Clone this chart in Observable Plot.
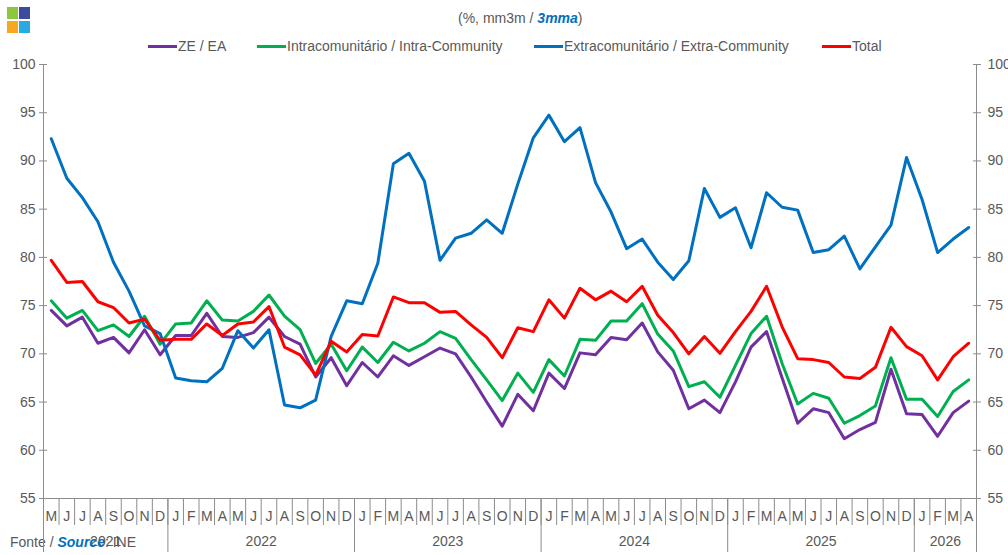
<!DOCTYPE html>
<html>
<head>
<meta charset="utf-8">
<script src="https://cdn.jsdelivr.net/npm/d3@7"></script>
<script src="https://cdn.jsdelivr.net/npm/@observablehq/plot@0.6"></script>
<style>
  body { margin: 0; background: #fff; }
  #wrap { position: relative; width: 1008px; height: 555px; overflow: hidden; font-family: "Liberation Sans", Arial, sans-serif; color: #595959; }
  #wrap svg { position: absolute; left: 0; top: 0; }
  .abs { position: absolute; font-size: 14px; line-height: 16px; white-space: nowrap; }
  .sq { position: absolute; width: 11px; height: 12px; }
  .lg { position: absolute; height: 3px; width: 29px; }
  .blue { color: #0070C0; font-weight: bold; font-style: italic; }
</style>
</head>
<body>
<div id="wrap">
  <div class="sq" style="left:7px;top:7px;background:#8DC63F"></div>
  <div class="sq" style="left:19px;top:7px;background:#3C4BA0"></div>
  <div class="sq" style="left:7px;top:21px;background:#F7A823"></div>
  <div class="sq" style="left:19px;top:21px;background:#29ABE2"></div>
  <div class="abs" style="left:458px;top:10px">(%, mm3m / <span class="blue">3mma</span>)</div>
  <div id="legend"></div>
  <div class="abs" style="left:10px;top:534px">Fonte / <span class="blue">Source</span>: INE</div>
</div>
<script>
// ---- data ----
const monthLetters = ["J","F","M","A","M","J","J","A","S","O","N","D"];
const startYear = 2021;
const startMonth = 4; // May (0-based)
const nMonths = 60;
const years = ["2021","2022","2023","2024","2025","2026"];
const yTicks = [55,60,65,70,75,80,85,90,95,100];

const seriesNames = ["ZE / EA", "Intracomunitário / Intra-Community", "Extracomunitário / Extra-Community", "Total"];
const seriesColors = ["#7030A0", "#00B050", "#0070C0", "#FF0000"];

const zeEa = [74.5,72.9,73.8,71.1,71.7,70.1,72.5,69.9,71.9,71.9,74.2,71.8,71.7,72.2,73.8,71.8,71.0,67.6,69.6,66.7,
  69.1,67.6,69.8,68.8,69.7,70.6,70.0,67.6,65.0,62.5,65.8,64.1,68.0,66.4,70.1,69.9,71.7,71.45,73.2,70.2,
  68.3,64.3,65.2,63.9,67.1,70.7,72.3,67.5,62.8,64.3,63.9,61.2,62.15,62.9,68.4,63.8,63.7,61.45,63.9,65.1];
const intra = [75.5,73.7,74.5,72.4,73.0,71.8,73.9,71.0,73.1,73.2,75.5,73.5,73.4,74.4,76.1,73.9,72.5,69.0,71.0,68.25,
  70.7,69.1,71.2,70.3,71.1,72.3,71.6,69.4,67.3,65.15,68.0,66.0,69.4,67.7,71.5,71.4,73.4,73.4,75.2,72.05,
  70.3,66.6,67.1,65.5,68.8,72.1,73.9,69.0,64.8,65.9,65.4,62.8,63.6,64.6,69.6,65.3,65.3,63.5,66.1,67.3];
const extra = [92.3,88.2,86.2,83.7,79.5,76.5,72.9,72.1,67.5,67.2,67.1,68.5,72.4,70.6,72.5,64.7,64.4,65.2,71.8,75.5,
  75.2,79.4,89.7,90.8,87.9,79.7,82.0,82.5,83.9,82.5,87.6,92.4,94.75,92.0,93.45,87.75,84.7,80.9,81.9,79.5,
  77.7,79.65,87.15,84.15,85.15,81.0,86.7,85.2,84.9,80.5,80.8,82.2,78.8,81.1,83.35,90.35,86.0,80.5,81.9,83.1];
const total = [79.7,77.4,77.5,75.4,74.8,73.2,73.6,71.4,71.5,71.5,73.1,71.9,73.1,73.3,74.9,70.7,69.9,67.8,71.3,70.2,
  72.0,71.85,75.9,75.3,75.3,74.3,74.4,73.0,71.7,69.6,72.7,72.3,75.6,73.7,76.8,75.6,76.5,75.4,77.0,74.0,
  72.2,70.0,71.8,70.05,72.3,74.4,77.0,72.8,69.5,69.4,69.1,67.6,67.45,68.6,72.75,70.75,69.8,67.3,69.7,71.1];

// ---- build table ----
const seriesValues = [zeEa, intra, extra, total];
const data = [];
seriesNames.forEach((s, k) => seriesValues[k].forEach((v, i) => data.push({s, i, v})));

const monthIdx = d3.range(nMonths);
const monthOf = i => (startMonth + i) % 12;
const yearOf = i => startYear + Math.floor((startMonth + i) / 12);
const monthBounds = d3.range(nMonths + 1).map(i => i - 0.5);
const yearBounds = monthBounds.filter(b => b === -0.5 || b === nMonths - 0.5 || monthOf(b + 0.5) === 0);
const yearCenters = years.map(y => {
  const idx = monthIdx.filter(i => String(yearOf(i)) === y);
  return (idx[0] + idx[idx.length - 1]) / 2;
});

const axisColor = "#8c8c8c";
const xDomain = [-0.5, nMonths - 0.5];

const chart = Plot.plot({
  width: 1008,
  height: 555,
  marginTop: 64,
  marginBottom: 57,
  marginLeft: 43,
  marginRight: 32,
  style: {fontSize: "14px", fontFamily: "'Liberation Sans', Arial, sans-serif", color: "#595959", background: "transparent", overflow: "visible"},
  x: {domain: xDomain},
  y: {domain: [55, 100]},
  color: {domain: seriesNames, range: seriesColors},
  marks: [
    Plot.ruleX(xDomain, {stroke: axisColor}),
    Plot.ruleY([55], {stroke: axisColor}),
    Plot.axisY({anchor: "left", ticks: yTicks, tickSize: 0, tickPadding: 8, stroke: "none", label: null}),
    Plot.axisY({anchor: "left", ticks: yTicks, tickSize: 8, dx: 4, fill: "none", stroke: axisColor, label: null}),
    Plot.axisY({anchor: "right", ticks: yTicks, tickSize: 0, tickPadding: 11, stroke: "none", label: null}),
    Plot.axisY({anchor: "right", ticks: yTicks, tickSize: 8, dx: -4, fill: "none", stroke: axisColor, label: null}),
    Plot.axisX({ticks: monthBounds, tickSize: 27, fill: "none", stroke: axisColor, label: null}),
    Plot.axisX({ticks: yearBounds, tickSize: 54, fill: "none", stroke: axisColor, label: null}),
    Plot.axisX({ticks: monthIdx, tickFormat: i => monthLetters[monthOf(i)], tickSize: 0, tickPadding: 13, stroke: "none", label: null}),
    Plot.axisX({ticks: yearCenters, tickFormat: c => years[yearCenters.indexOf(c)], tickSize: 0, tickPadding: 38, stroke: "none", label: null}),
    Plot.line(data, {x: "i", y: "v", z: "s", stroke: "s", strokeWidth: 3, strokeLinejoin: "round"})
  ]
});
document.getElementById("wrap").appendChild(chart);

// ---- legend (HTML) ----
const legendX = [148, 257, 534, 822];
const legend = document.getElementById("legend");
seriesNames.forEach((s, k) => {
  const line = document.createElement("div");
  line.className = "lg";
  line.style.left = legendX[k] + "px";
  line.style.top = "45px";
  line.style.background = seriesColors[k];
  legend.appendChild(line);
  const t = document.createElement("div");
  t.className = "abs";
  t.style.left = (legendX[k] + 30) + "px";
  t.style.top = "38px";
  t.textContent = s;
  legend.appendChild(t);
});
</script>
</body>
</html>
